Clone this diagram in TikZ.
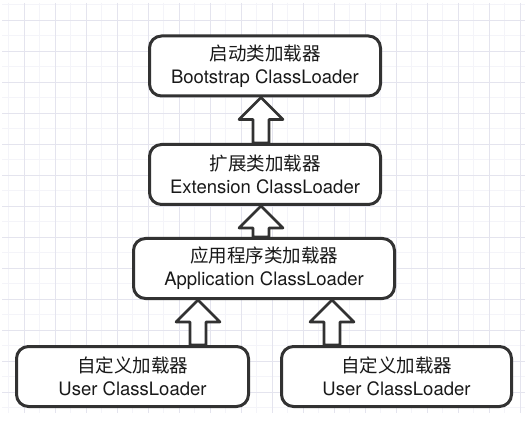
\documentclass[tikz,border=0pt]{standalone}
\usepackage{fontspec}
\setmainfont{TeX Gyre Heros}
\newfontfamily\cjk{Noto Sans CJK SC}
\usetikzlibrary{calc}
\definecolor{gridmajor}{RGB}{228,228,238}
\definecolor{gridminor}{RGB}{244,244,249}
\definecolor{edge}{RGB}{50,50,50}
\definecolor{ink}{RGB}{25,25,25}
\newcommand\hollowup[3]{%
\draw [hollow] let \p1=(#1.north), \p2=(#2.south) in
	(#3-8,\y1) -- (#3-8,\y2-22pt) -- (#3-22,\y2-22pt) -- (#3,\y2)
	-- (#3+22,\y2-22pt) -- (#3+8,\y2-22pt) -- (#3+8,\y1) -- cycle;}
\begin{document}
\begin{tikzpicture}[x=1pt,y=-1pt,
	loader/.style={draw=edge,fill=white,line width=3pt,rounded corners=12pt,
		align=center,text=ink,minimum height=60pt,inner sep=0pt,
		font=\fontsize{18.5}{23}\selectfont},
	hollow/.style={draw=edge,fill=white,line width=2.6pt,line join=round}]
\useasboundingbox (0,0) rectangle (532,427);
\fill [white] (0,0) rectangle (532,427);
\foreach \gx in {8.5,39.5,...,524} \draw [gridminor,line width=0.8pt] (\gx,3) -- (\gx,413);
\foreach \gy in {4.5,35.5,...,413} \draw [gridminor,line width=0.8pt] (2,\gy) -- (525,\gy);
\foreach \gx in {24,55,...,524} \draw [gridmajor,line width=0.9pt] (\gx,3) -- (\gx,413);
\foreach \gy in {20,51,...,413} \draw [gridmajor,line width=0.9pt] (2,\gy) -- (525,\gy);
\node (boot) [loader,minimum width=231pt] at (265,66) {{\cjk 启动类加载器}\\Bootstrap ClassLoader};
\node (ext) [loader,minimum width=231pt] at (265,174.5) {{\cjk 扩展类加载器}\\Extension ClassLoader};
\node (app) [loader,minimum width=261pt] at (264,268.5) {{\cjk 应用程序类加载器}\\Application ClassLoader};
\node (userl) [loader,minimum width=232pt] at (132.5,376.5) {{\cjk 自定义加载器}\\User ClassLoader};
\node (userr) [loader,minimum width=230pt] at (396.5,376.5) {{\cjk 自定义加载器}\\User ClassLoader};
\hollowup{ext}{boot}{261}
\hollowup{app}{ext}{261}
\hollowup{userl}{app}{198}
\hollowup{userr}{app}{332}
\end{tikzpicture}
\end{document}
